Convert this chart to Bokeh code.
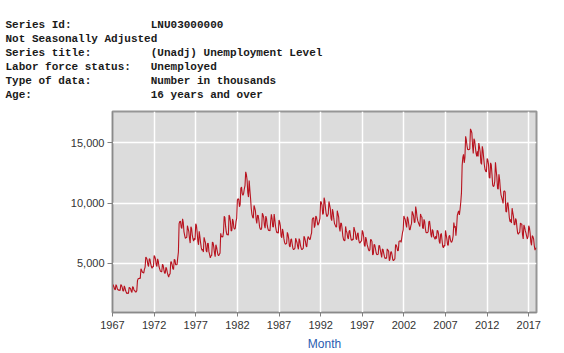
from bokeh.plotting import figure
from bokeh.models import Range1d, FixedTicker, NumeralTickFormatter, Title
from bokeh.embed import file_html
from bokeh.resources import INLINE

# ---- header text ----
header_keys = ["Series Id:", "Not Seasonally Adjusted", "Series title:",
               "Labor force status:", "Type of data:", "Age:"]
header_vals = ["LNU03000000", "", "(Unadj) Unemployment Level",
               "Unemployed", "Number in thousands", "16 years and over"]

# ---- data: monthly unemployment level (thousands), Jan 1967 - Dec 2017 ----
start_year = 1967
unemployed = [
    3300, 3190, 3070, 2890, 2800, 3250, 3130, 2890, 2820, 2780, 2790, 2770,   # 1967
    3250, 3190, 3020, 2740, 2710, 3140, 2970, 2740, 2590, 2500, 2560, 2510,   # 1968
    3020, 2970, 2920, 2700, 2610, 3080, 3020, 2790, 2770, 2640, 2650, 2740,   # 1969
    3580, 3740, 3760, 3770, 3750, 4570, 4450, 4260, 4280, 4190, 4510, 4700,   # 1970
    5540, 5450, 5300, 4900, 4750, 5390, 5350, 5000, 4750, 4600, 4740, 4740,   # 1971
    5660, 5560, 5350, 4900, 4750, 5390, 5190, 4750, 4560, 4370, 4320, 4320,   # 1972
    4930, 4840, 4510, 4210, 4180, 4680, 4560, 4260, 4040, 3870, 4090, 4140,   # 1973
    5150, 5120, 4880, 4560, 4510, 5340, 5300, 4900, 4890, 4910, 5440, 5950,   # 1974
    8300, 8480, 8490, 8000, 7900, 8700, 8400, 7640, 7330, 7090, 7150, 7150,   # 1975
    8130, 7880, 7640, 7050, 6690, 8040, 7900, 7350, 7040, 6860, 7110, 6970,   # 1976
    8300, 8150, 7590, 6860, 6550, 7660, 7210, 6710, 6290, 6090, 6180, 5950,   # 1977
    7170, 6930, 6730, 6080, 5940, 6660, 6680, 5980, 5730, 5460, 5630, 5670,   # 1978
    6780, 6710, 6360, 5880, 5560, 6550, 6360, 6030, 5730, 5640, 5770, 5860,   # 1979
    7500, 7210, 7210, 7200, 7600, 8910, 8800, 8090, 7610, 7370, 7440, 7350,   # 1980
    9020, 8860, 8480, 7690, 7740, 8690, 8480, 7940, 7850, 7920, 8460, 8740,   # 1981
    10250, 10370, 10290, 9700, 9880, 11240, 11340, 10790, 10640, 10790, 11190, 11450,  # 1982
    12590, 12370, 11920, 10860, 10500, 11880, 11080, 10400, 9550, 9070, 8840, 8740,    # 1983
    9810, 9610, 9350, 8680, 8310, 8990, 8980, 8560, 8030, 7860, 7800, 7930,   # 1984
    9160, 9020, 8770, 8150, 7930, 8930, 8720, 8170, 7890, 7720, 7760, 7700,   # 1985
    8500, 9070, 8720, 8050, 8030, 9100, 8610, 8070, 7740, 7530, 7610, 7510,   # 1986
    8610, 8420, 8090, 7280, 7130, 7860, 7610, 7080, 6750, 6600, 6630, 6650,   # 1987
    7580, 7400, 7040, 6450, 6370, 6960, 7040, 6630, 6270, 6140, 6200, 6270,   # 1988
    7090, 6910, 6720, 6400, 6180, 7060, 6880, 6480, 6270, 6140, 6200, 6270,   # 1989
    7250, 7120, 6860, 6480, 6370, 6980, 7230, 7130, 6980, 7000, 7320, 7540,   # 1990
    8670, 8770, 8790, 7970, 8170, 8930, 8840, 8510, 8170, 8270, 8460, 8740,   # 1991
    10140, 10060, 9830, 9070, 9170, 10450, 10190, 9600, 9120, 8880, 8980, 9120,  # 1992
    10140, 9840, 9520, 8740, 8550, 9500, 9260, 8710, 8310, 8180, 8030, 8020,  # 1993
    9370, 9100, 8840, 7970, 7650, 8350, 8320, 7870, 7270, 7000, 6890, 6910,   # 1994
    8070, 7700, 7540, 7150, 7030, 7670, 7750, 7330, 6980, 6910, 7030, 6960,   # 1995
    8010, 7760, 7590, 7060, 6980, 7460, 7540, 6930, 6700, 6720, 6840, 6860,   # 1996
    7740, 7600, 7230, 6530, 6410, 7190, 6970, 6580, 6370, 6160, 6030, 6140,   # 1997
    6980, 6960, 6810, 5710, 5800, 6560, 6550, 6240, 5890, 5730, 5750, 5760,   # 1998
    6490, 6470, 6140, 5810, 5510, 6200, 6140, 5840, 5560, 5410, 5460, 5420,   # 1999
    6210, 6100, 6030, 5230, 5370, 5930, 5980, 5690, 5320, 5220, 5320, 5380,   # 2000
    6540, 6530, 6340, 6050, 6080, 6830, 6860, 6880, 6750, 7140, 7550, 7780,   # 2001
    8940, 8770, 8630, 8260, 7980, 8870, 8680, 8270, 7790, 7800, 8120, 8300,   # 2002
    9320, 9150, 8940, 8400, 8410, 9710, 9360, 8810, 8550, 8370, 8220, 8060,   # 2003
    9100, 8880, 8840, 7970, 7890, 8660, 8480, 7870, 7550, 7570, 7550, 7630,   # 2004
    8450, 8510, 8010, 7390, 7170, 7820, 7700, 7230, 7130, 7000, 7270, 7060,   # 2005
    7740, 7700, 7440, 6820, 6650, 7400, 7490, 6930, 6410, 6300, 6510, 6430,   # 2006
    7740, 7380, 7020, 6530, 6510, 7250, 7330, 6980, 6790, 6770, 6940, 7300,   # 2007
    8390, 7970, 8110, 7300, 7980, 8980, 9200, 9360, 9030, 9490, 10070, 10850,  # 2008
    13130, 13800, 14040, 13340, 13780, 15540, 15240, 14750, 14440, 14430, 14440, 14500,  # 2009
    16150, 16000, 15810, 14740, 14110, 15330, 15180, 14650, 14160, 13870, 14300, 13870,  # 2010
    14980, 14630, 14250, 13340, 13210, 14700, 14400, 13760, 13160, 12780, 12640, 12580,  # 2011
    13700, 13570, 13210, 12140, 12070, 13340, 13160, 12380, 11500, 11370, 11450, 11810,  # 2012
    13380, 12720, 12170, 11230, 11160, 12390, 11960, 11190, 10690, 10480, 10260, 9980,   # 2013
    10970, 11020, 10920, 9310, 9260, 9980, 10040, 9450, 8790, 8460, 8650, 8350,  # 2014
    9580, 9220, 8890, 8210, 8220, 8720, 8580, 7970, 7510, 7430, 7550, 7580,   # 2015
    8350, 8270, 8270, 7390, 7030, 8190, 8010, 7720, 7510, 7240, 7030, 7250,   # 2016
    8130, 7950, 7490, 6770, 6510, 7300, 7230, 7030, 6460, 6110, 6270, 6290,   # 2017
]
months = [start_year + i / 12.0 for i in range(len(unemployed))]

x_ticks = [1967, 1972, 1977, 1982, 1987, 1992, 1997, 2002, 2007, 2012, 2017]
y_ticks = [5000, 10000, 15000]
x_label = "Month"

# ---- layout constants (pixels) ----
FRAME_LEFT, FRAME_TOP, FRAME_BOTTOM = 112, 111, 312
TEXT_LEFT = 5
KEY_COLS = 22  # value column starts 22 monospace characters in

p = figure(width=564, height=353, x_range=Range1d(1967, 2017.93),
           y_range=Range1d(940, 17590), toolbar_location=None, output_backend="svg",
           min_border_left=FRAME_LEFT, min_border_right=28, min_border_top=FRAME_TOP,
           min_border_bottom=353 - FRAME_BOTTOM)
p.background_fill_color = "#dcdcdc"
p.border_fill_color = "white"
p.outline_line_color = "#969696"
p.outline_line_width = 2

p.line(months, unemployed, line_color="#b8131f", line_width=1.1)

p.xaxis.ticker = FixedTicker(ticks=x_ticks)
p.yaxis.ticker = FixedTicker(ticks=y_ticks)
p.yaxis.formatter = NumeralTickFormatter(format="0,0")
p.xaxis.axis_label = x_label

for ax in (p.xaxis, p.yaxis):
    ax.major_label_text_font = "Liberation Sans"
    ax.major_label_text_font_size = "11px"
    ax.major_label_text_color = "#333333"
    ax.axis_line_color = "#8a8a8a"
    ax.major_tick_line_color = "#808080"
    ax.minor_tick_line_color = None
    ax.major_tick_in = 0

p.xaxis.major_tick_out = 4
p.xaxis.major_label_standoff = 4
p.yaxis.major_tick_out = 5
p.yaxis.major_label_standoff = 3
p.xaxis.axis_label_text_font = "Liberation Sans"
p.xaxis.axis_label_text_font_size = "12px"
p.xaxis.axis_label_text_font_style = "normal"
p.xaxis.axis_label_text_color = "#2a5cb0"
p.xaxis.axis_label_standoff = 5

p.grid.grid_line_color = "white"
p.grid.grid_line_width = 1.5

# header lines as stacked titles (first added sits nearest the frame)
NBSP = "\u00a0"
lines = []
for k, v in zip(header_keys, header_vals):
    lines.append(k + NBSP * (KEY_COLS - len(k)) + v if v else k)
# small spacer between the header block and the plot frame
p.add_layout(Title(text=NBSP, text_font="Liberation Mono", text_font_size="8px",
                   standoff=0), "above")
for txt in reversed(lines):
    p.add_layout(Title(text=txt, align="left", offset=TEXT_LEFT - FRAME_LEFT,
                       text_font="Liberation Mono", text_font_size="11px",
                       text_font_style="bold", text_color="#1a1a1a",
                       standoff=0), "above")

open("out.html", "w").write(file_html(p, INLINE))
